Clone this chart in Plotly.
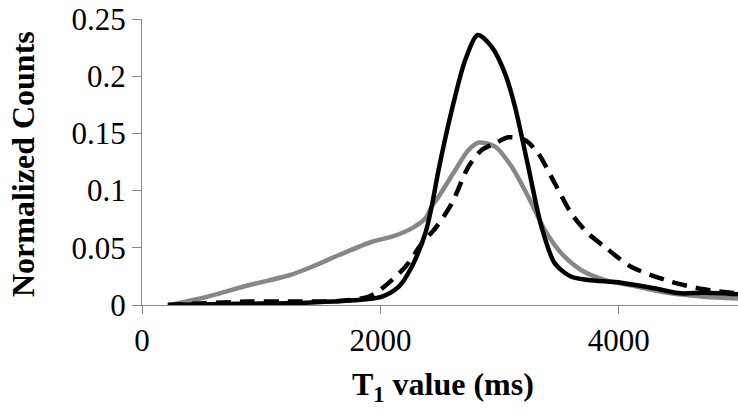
import plotly.graph_objects as go

# T1 values (ms) and normalized counts
gray_x = [234, 540, 902, 1236, 1428, 1653, 1929, 2096, 2263, 2380, 2430, 2488, 2628, 2739, 2828,
          2962, 3100, 3240, 3379, 3516, 3683, 3880, 4158, 4434, 4715, 5000]
gray_y = [0.0, 0.007, 0.0175, 0.026, 0.0335, 0.0437, 0.0553, 0.0597, 0.067, 0.076, 0.086, 0.0947,
          0.118, 0.1355, 0.142, 0.1384, 0.121, 0.0947, 0.0656, 0.0454, 0.0306, 0.0219, 0.016,
          0.0102, 0.0073, 0.0057]

solid_x = [217, 818, 1375, 1876, 2014, 2154, 2263, 2377, 2430, 2488, 2598, 2711, 2817, 2931, 3045,
           3129, 3240, 3351, 3463, 3602, 3741, 4019, 4298, 4520, 4715, 5000]
solid_y = [0.0, 0.001, 0.002, 0.005, 0.0073, 0.016, 0.0335, 0.0627, 0.086, 0.118, 0.170, 0.214,
           0.236, 0.226, 0.2025, 0.1733, 0.121, 0.0685, 0.0364, 0.0247, 0.0219, 0.0195, 0.0146,
           0.0102, 0.0108, 0.0095]

dash_x = [217, 902, 1320, 1653, 1904, 2015, 2210, 2349, 2460, 2600, 2739, 2850, 2962, 3073, 3212,
          3323, 3463, 3602, 3741, 3880, 4103, 4437, 4715, 5000]
dash_y = [0.0, 0.003, 0.003, 0.0035, 0.0073, 0.0146, 0.0335, 0.054, 0.067, 0.089, 0.121, 0.1355,
          0.1413, 0.1466, 0.1442, 0.1326, 0.1064, 0.080, 0.0627, 0.051, 0.0335, 0.0204, 0.0137,
          0.0102]

x_ticks = [0, 2000, 4000]
y_ticks = [0, 0.05, 0.1, 0.15, 0.2, 0.25]
y_tick_text = ["0", "0.05", "0.1", "0.15", "0.2", "0.25"]

FONT = "Liberation Serif"
AXIS_GRAY = "#898989"

fig = go.Figure()
fig.add_trace(go.Scatter(x=gray_x, y=gray_y, mode="lines",
                         line=dict(color="#878787", width=4.5, shape="spline", smoothing=0.8)))
fig.add_trace(go.Scatter(x=dash_x, y=dash_y, mode="lines",
                         line=dict(color="black", width=4.5, dash="15px,9px", shape="spline", smoothing=0.8)))
fig.add_trace(go.Scatter(x=solid_x, y=solid_y, mode="lines",
                         line=dict(color="black", width=4.5, shape="spline", smoothing=0.8)))

fig.update_layout(
    width=738, height=409,
    margin=dict(l=142, r=0, t=19, b=104),
    paper_bgcolor="white", plot_bgcolor="white",
    showlegend=False,
    font=dict(family=FONT, size=31, color="black"),
    xaxis=dict(range=[0, 5000], tickvals=x_ticks, ticktext=[str(v) for v in x_ticks],
               showgrid=False, zeroline=False, showline=True, linecolor=AXIS_GRAY, linewidth=1,
               ticks="outside", ticklen=8, tickcolor=AXIS_GRAY, tickwidth=1,
               tickfont=dict(family=FONT, size=31, color="black")),
    yaxis=dict(range=[0, 0.25], tickvals=y_ticks, ticktext=y_tick_text,
               showgrid=False, zeroline=False, showline=True, linecolor=AXIS_GRAY, linewidth=1,
               ticks="outside", ticklen=9, tickcolor=AXIS_GRAY, tickwidth=1,
               tickfont=dict(family=FONT, size=31, color="black")),
    annotations=[
        dict(text="<b>Normalized Counts</b>", xref="paper", yref="paper",
             x=(23 - 142) / 596, y=(305 - 164) / 286, xanchor="center", yanchor="middle",
             textangle=-90, showarrow=False, font=dict(family=FONT, size=32, color="black")),
        dict(text="<b>T<sub>1</sub> value (ms)</b>", xref="paper", yref="paper",
             x=(443 - 142) / 596, y=-(386 - 305) / 286, xanchor="center", yanchor="middle",
             showarrow=False, font=dict(family=FONT, size=32, color="black")),
    ],
)

fig.write_html("out.html")
